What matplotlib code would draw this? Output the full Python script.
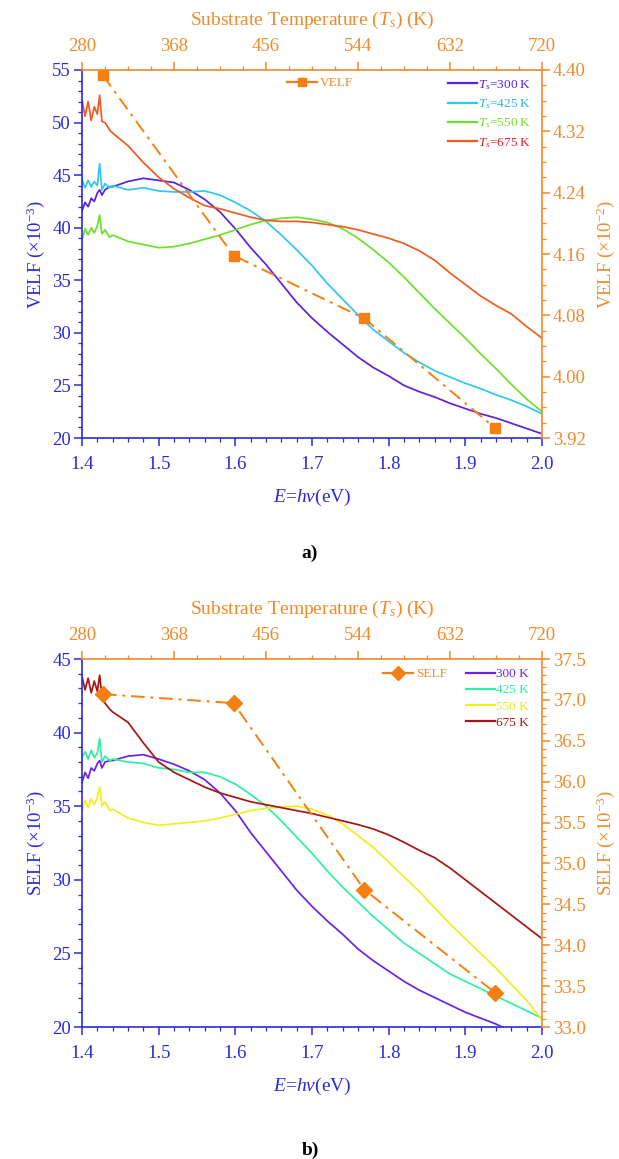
import numpy as np
import matplotlib
matplotlib.use("Agg")
import matplotlib.pyplot as plt
from matplotlib.ticker import FixedLocator, MultipleLocator, FormatStrFormatter
from matplotlib.lines import Line2D

plt.rcParams['font.family'] = ['Liberation Serif', 'DejaVu Serif']
plt.rcParams['mathtext.fontset'] = 'custom'
plt.rcParams['mathtext.rm'] = 'Liberation Serif'
plt.rcParams['mathtext.it'] = 'Liberation Serif:italic'
plt.rcParams['mathtext.bf'] = 'Liberation Serif:bold'

# ---------------- data ----------------
energy = [1.400, 1.404, 1.408, 1.412, 1.416, 1.420, 1.423, 1.426, 1.430, 1.436, 1.44,
          1.46, 1.48, 1.50, 1.52, 1.54, 1.56, 1.58, 1.60, 1.62, 1.64, 1.66, 1.68, 1.70,
          1.72, 1.74, 1.76, 1.78, 1.80, 1.82, 1.84, 1.86, 1.88, 1.90, 1.92, 1.94, 1.96,
          1.98, 2.00]

velf_300 = [41.6, 42.4, 42.0, 42.8, 42.5, 43.3, 43.6, 43.1, 43.6, 43.9, 43.9,
            44.4, 44.7, 44.5, 44.3, 43.6, 42.7, 41.5, 39.9, 38.1, 36.5, 34.7, 32.9, 31.4,
            30.1, 28.9, 27.7, 26.7, 25.9, 25.0, 24.4, 23.9, 23.3, 22.8, 22.3, 21.9, 21.4,
            20.9, 20.4]
velf_425 = [44.6, 43.8, 44.5, 43.9, 44.4, 44.0, 46.1, 43.6, 44.2, 43.8, 44.0,
            43.6, 43.8, 43.5, 43.4, 43.4, 43.5, 43.1, 42.4, 41.6, 40.6, 39.3, 37.9, 36.4,
            34.7, 33.2, 31.7, 30.3, 29.2, 28.1, 27.2, 26.4, 25.8, 25.2, 24.7, 24.1, 23.6,
            23.0, 22.3]
velf_550 = [38.8, 39.9, 39.3, 40.0, 39.5, 40.2, 41.2, 39.4, 39.8, 39.1, 39.3,
            38.7, 38.4, 38.1, 38.2, 38.5, 38.9, 39.3, 39.8, 40.3, 40.7, 40.9, 41.0, 40.8,
            40.5, 39.9, 39.0, 37.9, 36.7, 35.3, 33.8, 32.3, 30.9, 29.5, 28.0, 26.6, 25.1,
            23.7, 22.5]
velf_675 = [52.2, 50.6, 52.0, 50.2, 51.5, 50.8, 52.6, 50.1, 50.0, 49.3, 49.0,
            47.8, 46.2, 44.8, 43.7, 42.85, 42.1, 41.8, 41.4, 41.0, 40.7, 40.6, 40.6, 40.5,
            40.3, 40.1, 39.8, 39.4, 39.0, 38.5, 37.8, 36.9, 35.7, 34.6, 33.5, 32.6, 31.8,
            30.6, 29.5]

self_300 = [36.6, 37.3, 36.9, 37.6, 37.4, 37.9, 38.1, 37.6, 38.0, 38.1, 38.1,
            38.4, 38.5, 38.2, 37.85, 37.4, 36.8, 35.9, 34.7, 33.2, 31.9, 30.6, 29.3, 28.2,
            27.2, 26.3, 25.3, 24.5, 23.8, 23.1, 22.5, 22.0, 21.5, 21.0, 20.6, 20.2, 19.7,
            19.3, 18.9]
self_425 = [38.3, 38.7, 38.2, 38.8, 38.3, 38.6, 39.6, 38.0, 38.4, 38.1, 38.2,
            38.0, 37.9, 37.6, 37.5, 37.3, 37.3, 37.0, 36.5, 35.8, 35.0, 34.0, 32.9, 31.8,
            30.6, 29.5, 28.5, 27.5, 26.6, 25.7, 25.0, 24.3, 23.6, 23.1, 22.6, 22.1, 21.6,
            21.1, 20.6]
self_550 = [34.7, 35.4, 34.9, 35.5, 35.1, 35.6, 36.3, 35.0, 35.3, 34.7, 34.8,
            34.2, 33.9, 33.7, 33.8, 33.9, 34.0, 34.2, 34.45, 34.7, 34.85, 34.95, 35.0, 34.8,
            34.4, 33.8, 33.0, 32.2, 31.2, 30.2, 29.2, 28.1, 27.0, 26.0, 25.0, 24.0, 22.9,
            21.8, 20.5]
self_675 = [43.8, 42.9, 43.7, 42.7, 43.5, 42.8, 43.9, 42.5, 42.0, 41.6, 41.4,
            40.7, 39.3, 38.0, 37.3, 36.8, 36.3, 35.9, 35.6, 35.3, 35.1, 34.9, 34.7, 34.5,
            34.25, 34.0, 33.75, 33.45, 33.05, 32.55, 32.0, 31.5, 30.8, 30.0, 29.2, 28.4, 27.6,
            26.8, 26.0]

temps = [300, 425, 550, 675]
velf_vs_T = [4.393, 4.158, 4.076, 3.933]   # x 1e-2
self_vs_T = [37.07, 36.96, 34.68, 33.42]   # x 1e-3

labels_a = [r'$T_s$=300 K', r'$T_s$=425 K', r'$T_s$=550 K', r'$T_s$=675 K']
labels_b = ['300 K', '425 K', '550 K', '675 K']
top_ticks = [280, 368, 456, 544, 632, 720]

# ---------------- style ----------------
BLUE = '#2a2ad8'
ORANGE = '#f08a2a'
MARK = '#f57f10'
colors_a = ['#5a22e0', '#2ec8f2', '#6ee02a', '#f25a22']
text_a = ['#5a22e0', '#28b8e0', '#6ee02a', '#e8202a']
colors_b = ['#6a22e8', '#2ef0a0', '#f2ee1e', '#a81414']
text_b = ['#6a22e8', '#2ee89a', '#ecea10', '#a81414']

W, H = 619, 1159
fig = plt.figure(figsize=(W / 100, H / 100), dpi=100)


def rect(l, t, r, b):
    return [l / W, 1 - b / H, (r - l) / W, (b - t) / H]


def panel(r, curves, cols, tcols, labs, ylim, ylabel, rlim, rmajor, rminor, rfmt,
          rlabel, tvals, marker, mlabel, leg_main, leg_pts, spacing, tag, tag_y):
    ax = fig.add_axes(rect(*r))
    for y, c in zip(curves, cols):
        ax.plot(energy, y, color=c, lw=1.25)
    ax.set_xlim(1.4, 2.0)
    ax.set_ylim(*ylim)
    ax.xaxis.set_major_locator(FixedLocator([1.4, 1.5, 1.6, 1.7, 1.8, 1.9, 2.0]))
    ax.xaxis.set_major_formatter(FormatStrFormatter('%.1f'))
    ax.xaxis.set_minor_locator(MultipleLocator(0.02))
    ax.yaxis.set_major_locator(MultipleLocator(5))
    ax.yaxis.set_minor_locator(MultipleLocator(1))
    for s in ['left', 'bottom']:
        ax.spines[s].set_color(BLUE)
        ax.spines[s].set_linewidth(1.2)
    for s in ['top', 'right']:
        ax.spines[s].set_visible(False)
    ax.tick_params(which='major', direction='out', length=6, width=1.1, colors=BLUE,
                   labelsize=13.5, pad=2)
    ax.tick_params(axis='x', which='major', pad=7)
    ax.tick_params(which='minor', direction='out', length=3, width=0.9, colors=BLUE)
    ax.set_xlabel(r'$E$=$h\nu$(eV)', color=BLUE, fontsize=14, labelpad=10)
    ax.set_ylabel(ylabel, color=BLUE, fontsize=13.5, labelpad=4)

    ax2 = fig.add_axes(rect(*r), label=tag)
    ax2.patch.set_visible(False)
    ax2.plot(temps, tvals, color=MARK, ls=(0, (7, 3, 1.5, 3)), lw=1.4,
             marker=marker, ms=7 if marker == 's' else 8, mfc=MARK, mec=MARK)
    ax2.set_xlim(280, 720)
    ax2.set_ylim(*rlim)
    ax2.xaxis.tick_top()
    ax2.xaxis.set_label_position('top')
    ax2.yaxis.tick_right()
    ax2.yaxis.set_label_position('right')
    ax2.xaxis.set_major_locator(FixedLocator(top_ticks))
    ax2.xaxis.set_minor_locator(FixedLocator(np.arange(280, 721, 22)))
    ax2.yaxis.set_major_locator(FixedLocator(rmajor))
    ax2.yaxis.set_minor_locator(MultipleLocator(rminor))
    ax2.yaxis.set_major_formatter(FormatStrFormatter(rfmt))
    for s in ['left', 'bottom']:
        ax2.spines[s].set_visible(False)
    for s in ['top', 'right']:
        ax2.spines[s].set_color(ORANGE)
        ax2.spines[s].set_linewidth(1.2)
    ax2.tick_params(which='major', direction='out', length=6, width=1.1, colors=ORANGE,
                    labelsize=13.5, pad=2)
    ax2.tick_params(axis='x', which='major', pad=5)
    ax2.tick_params(which='minor', direction='out', length=3, width=0.9, colors=ORANGE)
    ax2.set_xlabel(r'Substrate Temperature ($T_s$) (K)', color=ORANGE, fontsize=14,
                   labelpad=9)
    ax2.set_ylabel(rlabel, color=ORANGE, fontsize=13.5, labelpad=6)

    handles = [Line2D([], [], color=c, lw=1.6) for c in cols]
    fig.legend(handles, labs, loc='upper left',
               bbox_to_anchor=(leg_main[0] / W, 1 - leg_main[1] / H),
               frameon=False, fontsize=9.5, handlelength=2.2, handletextpad=0.1,
               labelspacing=spacing, borderpad=0, borderaxespad=0,
               labelcolor=tcols)
    h2 = Line2D([], [], color=MARK, lw=1.6, marker=marker,
                ms=6 if marker == 's' else 7, mfc=MARK, mec=MARK)
    fig.legend([h2], [mlabel], loc='upper left',
               bbox_to_anchor=(leg_pts[0] / W, 1 - leg_pts[1] / H),
               frameon=False, fontsize=9.5, handlelength=2.3, handletextpad=0.2,
               borderpad=0, borderaxespad=0, labelcolor=ORANGE)
    fig.text(310 / W, 1 - tag_y / H, tag, ha='center', va='center',
             fontsize=14, fontweight='bold', color='black')
    return ax, ax2


panel((82, 70, 542, 438), [velf_300, velf_425, velf_550, velf_675], colors_a, text_a,
      labels_a, (20, 55), r'VELF (×10$^{-3}$)', (3.92, 4.40),
      [3.92, 4.00, 4.08, 4.16, 4.24, 4.32, 4.40], 0.02, '%.2f', r'VELF (×10$^{-2}$)',
      velf_vs_T, 's', 'VELF', (448, 78), (287, 77), 0.42, 'a)', 553)

panel((82, 659, 542, 1027), [self_300, self_425, self_550, self_675], colors_b, text_b,
      labels_b, (20, 45), r'SELF (×10$^{-3}$)', (33.0, 37.5),
      [33.0, 33.5, 34.0, 34.5, 35.0, 35.5, 36.0, 36.5, 37.0, 37.5], 0.1, '%.1f',
      r'SELF (×10$^{-3}$)', self_vs_T, 'D', 'SELF', (466, 668), (383, 668), 0.3,
      'b)', 1150)

fig.savefig('out.png', dpi=100)
